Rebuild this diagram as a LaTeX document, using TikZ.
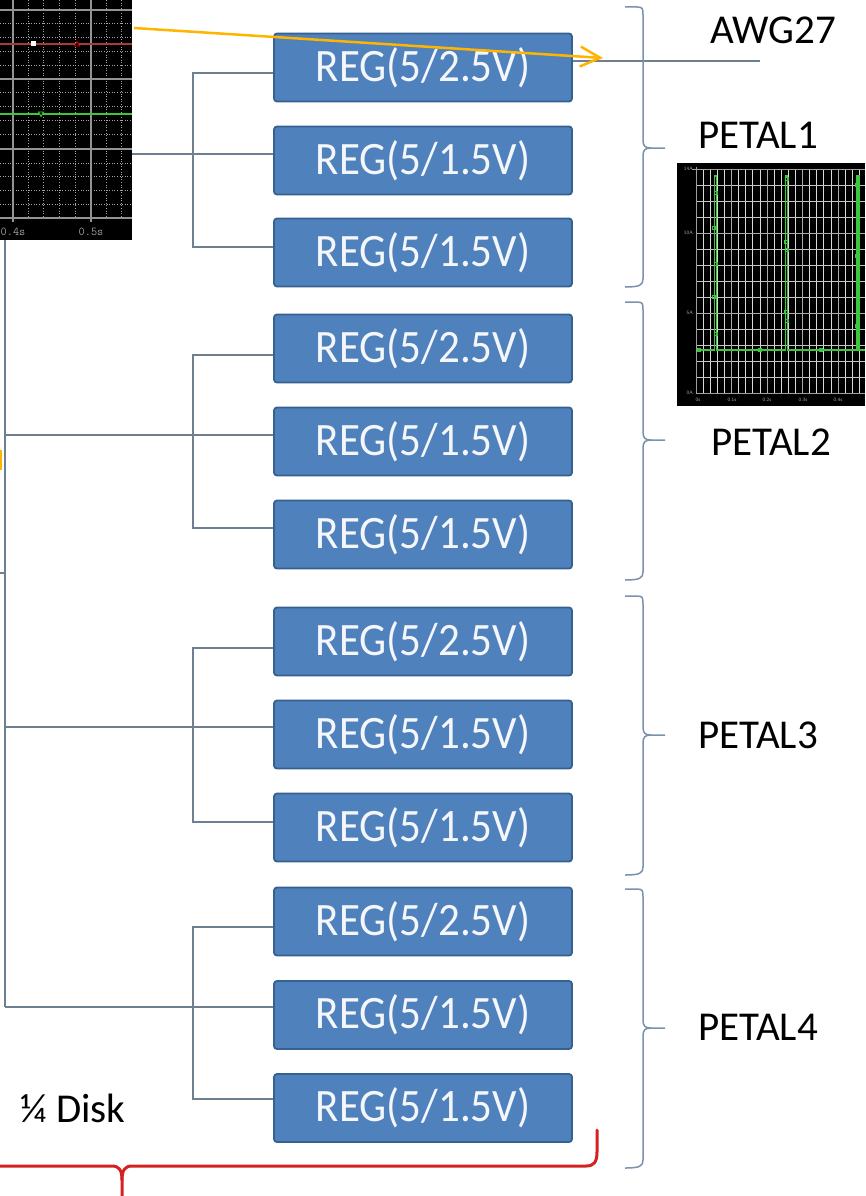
\documentclass[tikz,border=0pt]{standalone}
\usepackage{fontspec}
\setmainfont{Carlito}
\usetikzlibrary{arrows.meta}
\definecolor{boxfill}{HTML}{4F81BD}
\definecolor{boxline}{HTML}{36608F}
\definecolor{boxtext}{HTML}{F4F6FA}
\definecolor{connc}{HTML}{6E7F90}
\definecolor{bracec}{HTML}{7A92AE}
\definecolor{redc}{HTML}{D42222}
\definecolor{orangec}{HTML}{FFB400}
\definecolor{scgreen}{HTML}{3CC83C}
\definecolor{scred}{HTML}{A83A3A}
\newcommand\petalbrace[3]{%
  \draw[brc] (625,#1) -- (637,#1) .. controls (643,#1) and (643,#1+2) .. (643,#1+8) -- (643,#2-8) .. controls (643,#2-2) and (645,#2) .. (651,#2) -- (665,#2);
  \draw[brc] (651,#2) .. controls (645,#2) and (643,#2+2) .. (643,#2+8) -- (643,#3-8) .. controls (643,#3-2) and (640,#3) .. (625,#3);}
\newcommand\regtext[1]{\scalebox{1}[1.08]{#1}}
\begin{document}
\begin{tikzpicture}[x=1pt,y=-1pt,
  regbox/.style={draw=boxline, fill=boxfill, line width=1.8pt, rounded corners=3pt,
    minimum width=298pt, minimum height=68pt, inner sep=0pt, text=boxtext,
    font=\fontsize{43}{48}\selectfont},
  lbl/.style={inner sep=0pt, text=black, font=\fontsize{41}{48}\selectfont},
  conn/.style={draw=connc, line width=1.3pt},
  brc/.style={draw=bracec, line width=1.5pt},
  minorv/.style={draw=gray!70, line width=0.8pt, dash pattern=on 1pt off 1.6pt},
  majorl/.style={draw=gray!85, line width=1.1pt},
  sclbl/.style={inner sep=0pt, text=gray!75, font=\ttfamily\fontsize{12}{12}\selectfont},
  s2lbl/.style={inner sep=0pt, text=gray!70, font=\sffamily\fontsize{5}{5}\selectfont},
  mk/.style={draw=scgreen, line width=0.9pt}]
\useasboundingbox (0,0) rectangle (865,1196);
\fill[white] (0,0) rectangle (865,1196);

% ---------- regulator boxes ----------
\node[regbox] (b11) at (423,67.5)  {\regtext{REG(5/2.5V)}};
\node[regbox] (b12) at (423,160.5) {\regtext{REG(5/1.5V)}};
\node[regbox] (b13) at (423,252.5) {\regtext{REG(5/1.5V)}};
\node[regbox] (b21) at (423,348.5) {\regtext{REG(5/2.5V)}};
\node[regbox] (b22) at (423,441.5) {\regtext{REG(5/1.5V)}};
\node[regbox] (b23) at (423,534.5) {\regtext{REG(5/1.5V)}};
\node[regbox] (b31) at (423,641.5) {\regtext{REG(5/2.5V)}};
\node[regbox] (b32) at (423,734.5) {\regtext{REG(5/1.5V)}};
\node[regbox] (b33) at (423,827.5) {\regtext{REG(5/1.5V)}};
\node[regbox] (b41) at (423,921.5) {\regtext{REG(5/2.5V)}};
\node[regbox] (b42) at (423,1015)  {\regtext{REG(5/1.5V)}};
\node[regbox] (b43) at (423,1108)  {\regtext{REG(5/1.5V)}};

% ---------- bus and branches ----------
\coordinate (busTop) at (5,240);
\coordinate (busBot) at (5,1007);
\coordinate (stub) at (0,573);
\draw[conn] (busTop) -- (busBot);
\draw[conn] (stub) -- (stub -| busTop);

\coordinate (m1) at (0,154);
\coordinate (m2) at (5,435);
\coordinate (m3) at (5,727);
\coordinate (m4) at (5,1007);
\draw[conn] (m1) -- (m1 -| b12.west);
\draw[conn] (m2) -- (m2 -| b22.west);
\draw[conn] (m3) -- (m3 -| b32.west);
\draw[conn] (m4) -- (m4 -| b42.west);

\coordinate (g1t) at (193,73);  \coordinate (g1b) at (193,247);
\coordinate (g2t) at (193,355); \coordinate (g2b) at (193,528);
\coordinate (g3t) at (193,648); \coordinate (g3b) at (193,822);
\coordinate (g4t) at (193,927); \coordinate (g4b) at (193,1099);
\draw[conn] (g1t -| b11.west) -- (g1t) -- (g1b) -- (g1b -| b13.west);
\draw[conn] (g2t -| b21.west) -- (g2t) -- (g2b) -- (g2b -| b23.west);
\draw[conn] (g3t -| b31.west) -- (g3t) -- (g3b) -- (g3b -| b33.west);
\draw[conn] (g4t -| b41.west) -- (g4t) -- (g4b) -- (g4b -| b43.west);

% AWG27 wire
\coordinate (awgend) at (760,61);
\draw[conn] (awgend -| b11.east) -- (awgend);

% ---------- braces ----------
\petalbrace{7}{148}{287}
\petalbrace{302}{440}{580}
\petalbrace{596}{735}{875}
\petalbrace{889}{1028}{1168}

% ---------- labels ----------
\node[lbl] (awg) at (773,30) {AWG27};
\node[lbl] (p1) at (758,135) {PETAL1};
\node[lbl] (p2) at (771,442) {PETAL2};
\node[lbl] (p3) at (758,735) {PETAL3};
\node[lbl] (p4) at (758,1027) {PETAL4};
\node[lbl] (disk) at (73,1108) {¼ Disk};

% ---------- red brace ----------
\draw[redc, line width=3pt, line cap=round, line join=round]
  (0,1166) -- (112,1166) .. controls (119,1166) and (122,1170) .. (122,1180) -- (122,1197);
\draw[redc, line width=3pt, line cap=round, line join=round]
  (122,1180) .. controls (122,1170) and (125,1166) .. (132,1166) -- (586,1166)
  .. controls (594,1166) and (597,1162) .. (597,1152) -- (597,1130);

% ---------- scope 1 (top left) ----------
\begin{scope}
\clip (0,0) rectangle (132,240);
\fill[black] (0,0) rectangle (132,240);
\foreach \x in {-2.6,28.2,43.8,59.4,75,106.2,121.8}
  \draw[minorv] (\x,0) -- (\x,218);
\foreach \y in {23.9,37.8,51.7,65.6,92.9,106.8,120.7,134.6,162.9,176.8,190.7,204.6}
  \draw[minorv] (0,\y) -- (132,\y);
\foreach \x in {13,91}
  \draw[majorl] (\x,0) -- (\x,222);
\foreach \y in {10,79,149,218}
  \draw[majorl] (0,\y) -- (132,\y);
\draw[scred, line width=1.4pt] (0,44) -- (132,44);
\fill[white] (30.5,41.5) rectangle (35.5,46.5);
\draw[red!80!black, line width=0.9pt, fill=black] (74.5,46) -- (77,41.5) -- (79.5,46) -- cycle;
\draw[scgreen, line width=1.3pt] (0,114) -- (132,114);
\draw[scgreen, line width=0.9pt, fill=black] (38.5,112) -- (43.5,112) -- (41,116.5) -- cycle;
\node[sclbl] (t04) at (13,232) {0.4s};
\node[sclbl] (t05) at (91,232) {0.5s};
\end{scope}

% ---------- scope 2 (right) ----------
\begin{scope}
\clip (677,163) rectangle (865,406);
\fill[black] (677,163) rectangle (865,406);
\foreach \i in {1,...,24}
  \draw[gray!30, line width=0.8pt] (696+7.1*\i,169) -- (696+7.1*\i,393);
\foreach \i in {1,...,14}
  \draw[gray!45, line width=0.8pt] (696,393-16*\i) -- (865,393-16*\i);
\foreach \i in {1,...,4}
  \draw[gray!65, line width=0.9pt] (696+35.5*\i,169) -- (696+35.5*\i,393);
\foreach \i in {5,10}
  \draw[gray!65, line width=0.9pt] (696,393-16*\i) -- (865,393-16*\i);
\draw[gray!75, line width=0.9pt] (696,167) -- (696,393) -- (865,393);
\draw[gray!75, line width=0.9pt] (692,169) -- (865,169);
\foreach \y/\t in {169/14A,233/10A,313/5A,393/0A}
  \node[s2lbl, anchor=east] at (693,\y) {\t};
\foreach \x/\t in {698/0s,732/0.1s,767/0.2s,803/0.3s,838/0.4s}
  \node[s2lbl] at (\x,400) {\t};
\draw[scgreen, line width=1.4pt]
  (698,350) -- (714.5,350) -- (714.5,176) -- (716.3,176) -- (716.3,350)
  -- (785.5,350) -- (785.5,176) -- (787.3,176) -- (787.3,350)
  -- (857,350) -- (857,176) -- (858.8,176) -- (858.8,350) -- (866,350);
\foreach \x/\y in {699/350,760/350,821/350,716/193,714/228,716/264,714/297,716/334,
  787/179,786/242,787/250,786/312,787/321,857/185,858/237,857/256,858/307,857/326}
  \draw[mk] (\x-1.5,\y-1.5) rectangle (\x+1.5,\y+1.5);
\end{scope}

% ---------- orange arrow ----------
\coordinate (oa) at (134,28);
\coordinate (ob) at (603,58);
\draw[orangec, line width=2.5pt, -{Straight Barb[length=20pt,width=20pt,line width=2.5pt]}] (oa) -- (ob);
\draw[orangec, line width=2pt] (0.8,450) -- (0.8,470);
\end{tikzpicture}
\end{document}
